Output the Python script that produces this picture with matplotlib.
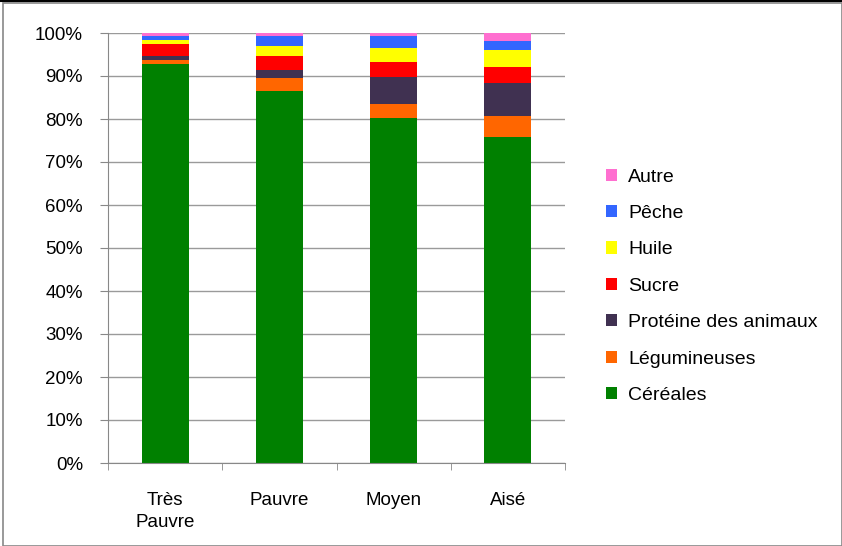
import numpy as np
import matplotlib.pyplot as plt
from matplotlib.patches import Patch, Rectangle

plt.rcParams['font.family'] = ['Liberation Sans', 'DejaVu Sans']

categories = ['Très\nPauvre', 'Pauvre', 'Moyen', 'Aisé']
series = ['Céréales', 'Légumineuses', 'Protéine des animaux', 'Sucre',
          'Huile', 'Pêche', 'Autre']
cereales = [92.8, 86.5, 80.2, 75.9]
legumineuses = [0.9, 3.1, 3.3, 4.7]
proteine = [0.9, 1.9, 6.2, 7.8]
sucre = [2.8, 3.2, 3.6, 3.7]
huile = [0.9, 2.3, 3.3, 4.0]
peche = [1.0, 2.2, 2.6, 2.1]
autre = [0.7, 0.8, 0.8, 1.8]
colors = ['#008000', '#FF6600', '#403151', '#FF0000', '#FFFF00', '#3366FF', '#FF6FD0']

values = [cereales, legumineuses, proteine, sucre, huile, peche, autre]

fig = plt.figure(figsize=(8.42, 5.46), dpi=100)
ax = fig.add_axes([108 / 842, 1 - 463 / 546, 457 / 842, 430 / 546])

x = np.arange(len(categories))
bottom = np.zeros(len(categories))
handles = []
for name, vals, col in zip(series, values, colors):
    ax.bar(x, vals, width=0.41, bottom=bottom, color=col, zorder=2)
    bottom += np.array(vals)
    handles.append(Patch(facecolor=col, label=name))

ax.set_xlim(-0.5, 3.5)
ax.set_ylim(0, 100)
ax.set_yticks(np.arange(0, 101, 10))
ax.set_yticklabels([f'{v}%' for v in range(0, 101, 10)], fontsize=13.5)
ax.yaxis.grid(True, color='#9a9a9a', linewidth=1.0, zorder=0)
ax.set_axisbelow(True)

ax.set_xticks(x)
ax.set_xticklabels(categories, fontsize=13.5, linespacing=1.35)
ax.set_xticks(np.arange(-0.5, 4, 1), minor=True)
ax.tick_params(axis='x', which='major', length=0, pad=21)
ax.tick_params(axis='x', which='minor', length=5, color='#888888')
ax.tick_params(axis='y', length=6, color='#888888', pad=12)

for s in ['top', 'right']:
    ax.spines[s].set_visible(False)
for s in ['left', 'bottom']:
    ax.spines[s].set_color('#888888')

fig.legend(handles=handles[::-1], loc='upper left',
           bbox_to_anchor=(588 / 842, 1 - 151 / 546), frameon=False,
           fontsize=14, handlelength=0.58, handleheight=0.58,
           handletextpad=0.6, labelspacing=1.0)

# chart border
fig.patches.append(Rectangle((3 / 842, 0), 1 - 3 / 842, 1 - 3 / 546,
                             transform=fig.transFigure, fill=False,
                             edgecolor='#888888', linewidth=1.2))
fig.add_artist(plt.Line2D([0, 1], [1 - 1 / 546, 1 - 1 / 546],
                          transform=fig.transFigure, color='black', linewidth=1.5))

fig.savefig('out.png', dpi=100)
